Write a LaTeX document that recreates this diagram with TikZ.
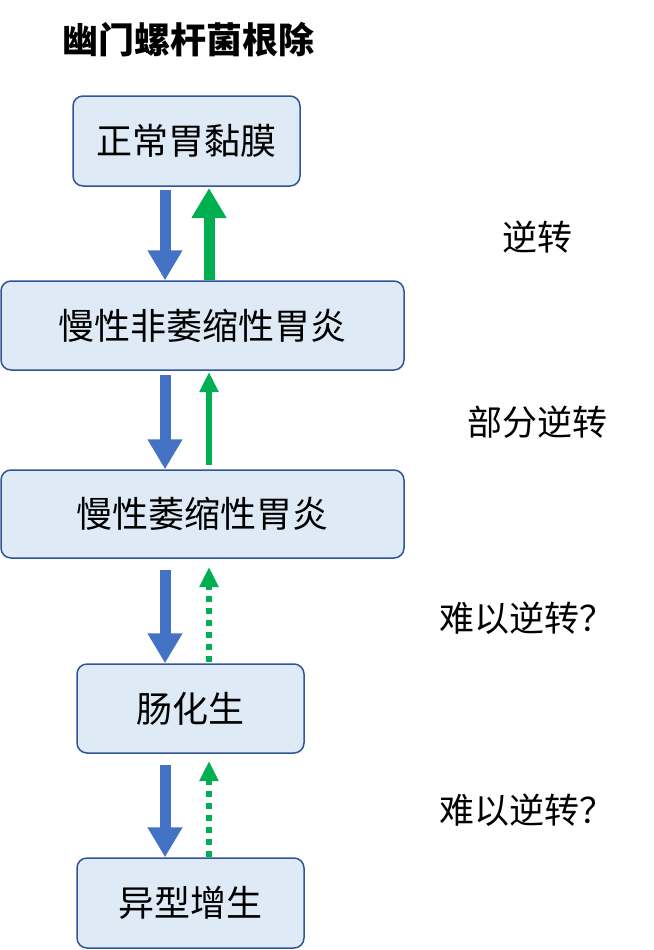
\documentclass[tikz,border=0pt]{standalone}
\usepackage{fontspec}
\setmainfont{Noto Sans CJK SC}
\usetikzlibrary{arrows.meta}
\definecolor{boxfill}{HTML}{DEEBF7}
\definecolor{boxline}{HTML}{2F5597}
\definecolor{bluea}{HTML}{4472C4}
\definecolor{greena}{HTML}{00B050}
\tikzset{
  stage/.style={draw=boxline, line width=1.5pt, fill=boxfill, rounded corners=10pt, inner sep=0pt, font=\fontsize{36}{40}\selectfont},
  downarr/.style={draw=bluea, line width=11pt, -{Triangle[width=33pt,length=30pt]}},
  upthick/.style={draw=greena, line width=11pt, -{Triangle[width=33pt,length=30pt]}},
  upthin/.style={draw=greena, line width=6pt, -{Triangle[width=18pt,length=20pt]}},
  updot/.style={draw=greena, line width=6pt, dash pattern=on 6pt off 6pt, -{Triangle[width=18pt,length=20pt]}},
  lbl/.style={font=\fontsize{35}{40}\selectfont}
}
\begin{document}
\begin{tikzpicture}[x=1pt,y=-1pt]
\useasboundingbox (0,0) rectangle (653,950);
\node[font=\bfseries\fontsize{36}{40}\selectfont] (title) at (188,40) {幽门螺杆菌根除};
\node[stage, minimum width=227pt, minimum height=90pt] (n1) at (186.5,141) {正常胃黏膜};
\node[stage, minimum width=403pt, minimum height=89pt] (n2) at (202.5,325.5) {慢性非萎缩性胃炎};
\node[stage, minimum width=403pt, minimum height=88pt] (n3) at (202.5,514) {慢性萎缩性胃炎};
\node[stage, minimum width=227pt, minimum height=89pt] (n4) at (190.5,708.5) {肠化生};
\node[stage, minimum width=227pt, minimum height=90pt] (n5) at (190.5,903) {异型增生};
\draw[downarr] (165,190) -- (165,0 |- n2.north);
\draw[upthick] (209,0 |- n2.north) -- (209,188);
\draw[downarr] (165,375) -- (165,0 |- n3.north);
\draw[upthin] (209,465) -- (209,372);
\draw[downarr] (165,570) -- (165,0 |- n4.north);
\draw[updot] (209,662) -- (209,567);
\draw[downarr] (165,765) -- (165,0 |- n5.north);
\draw[updot] (209,857) -- (209,761);
\node[lbl] (l1) at (537,237) {逆转};
\node[lbl] (l2) at (537,422) {部分逆转};
\node[lbl] (l3) at (527,618) {难以逆转？};
\node[lbl] (l4) at (527,810) {难以逆转？};
\end{tikzpicture}
\end{document}
